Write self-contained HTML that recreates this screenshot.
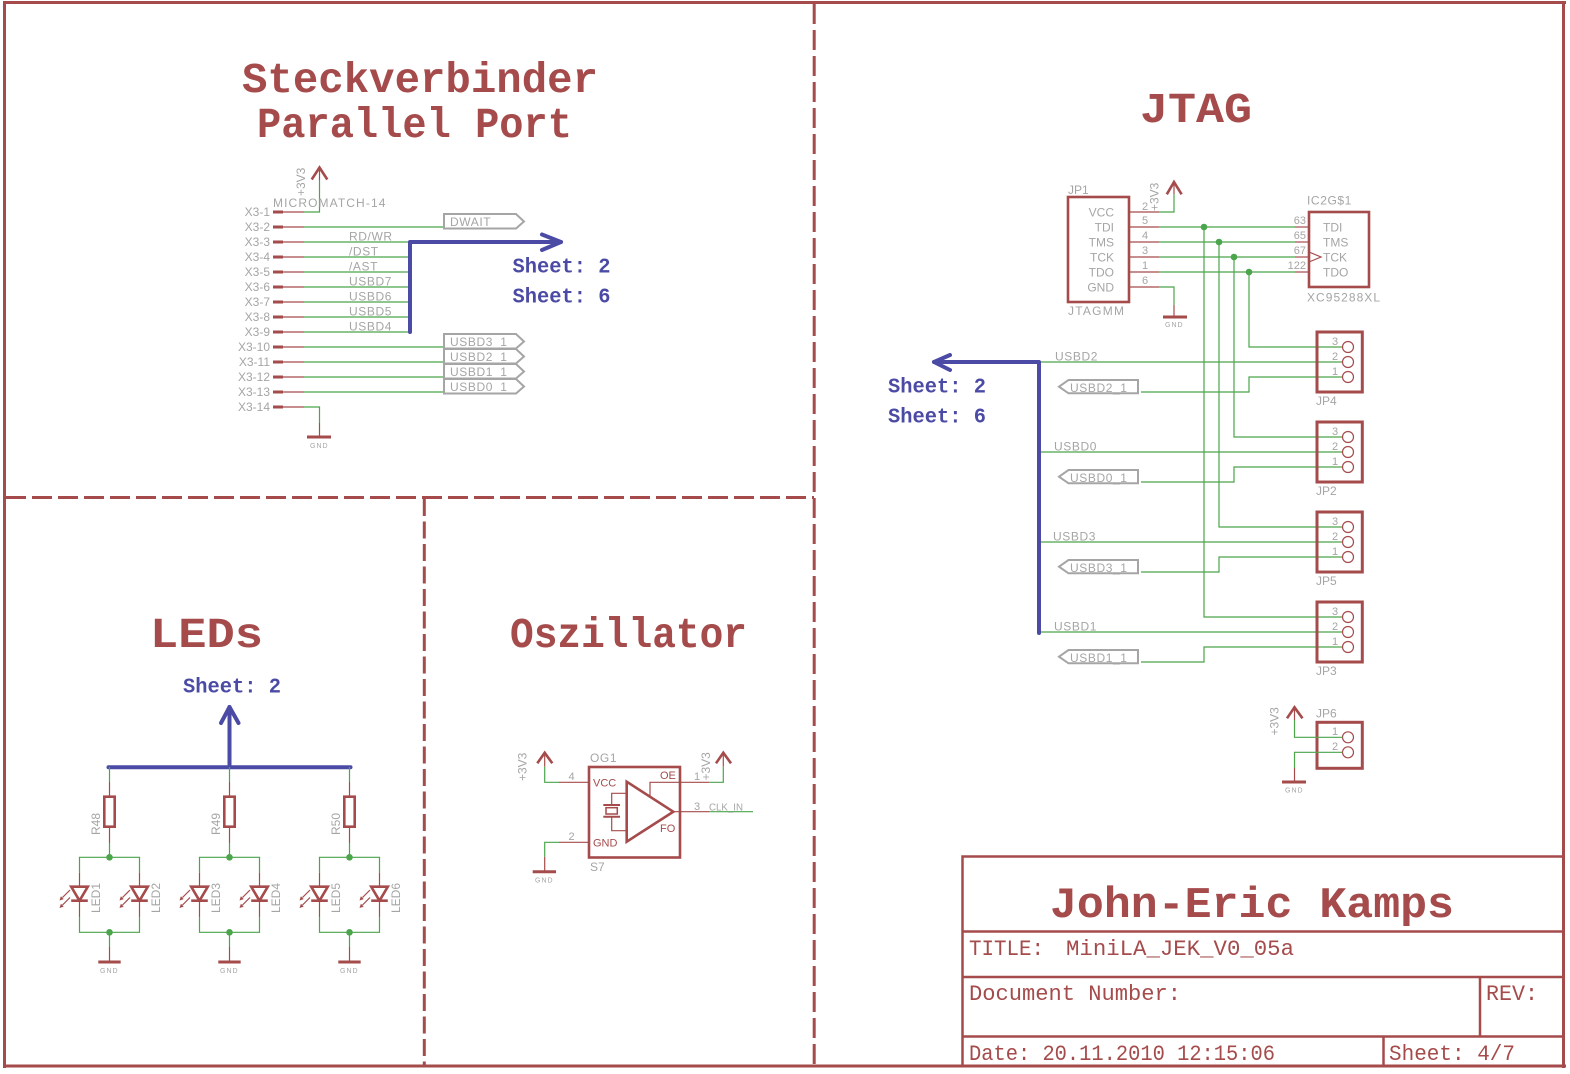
<!DOCTYPE html>
<html><head><meta charset="utf-8">
<style>
html,body{margin:0;padding:0;background:#fff;}
svg{display:block;}
.g{stroke:#4BA54B;stroke-width:1.2;fill:none}
.r{stroke:#A54B4B;stroke-width:1.2;fill:none}
.rt{stroke:#A54B4B;stroke-width:2.6;fill:none}
.b{stroke:#4B4BA5;stroke-width:4;fill:none;stroke-linecap:round;stroke-linejoin:round}
.gy{stroke:#A5A5A5;stroke-width:2;fill:#fff}
text{font-family:"Liberation Sans",sans-serif}
.t{fill:#A5A5A5;font-size:12px;letter-spacing:0.6px}
.tn{fill:#A5A5A5;font-size:12px}
.tp{fill:#A5A5A5;font-size:11px}
.gnd{fill:#A5A5A5;font-size:7px;letter-spacing:1px}
.h{fill:#A54B4B;font-family:"Liberation Mono",monospace;font-weight:bold;font-size:43px}
.s{fill:#4B4BA5;font-family:"Liberation Mono",monospace;font-weight:bold;font-size:21px}
.tb{fill:#A54B4B;font-family:"Liberation Mono",monospace;font-size:22px}
.rl{fill:#A54B4B;font-size:11px}
.dot{fill:#4BA54B}
.ra{fill:#A54B4B}
</style></head><body>
<svg width="1570" height="1074" viewBox="0 0 1570 1074" xmlns="http://www.w3.org/2000/svg">

<!-- Frame -->
<g stroke="#A54B4B" stroke-width="3" fill="none">
<line x1="4.5" y1="1" x2="4.5" y2="1068"/>
<line x1="3" y1="2.5" x2="1566" y2="2.5"/>
<line x1="1563.5" y1="1" x2="1563.5" y2="1068"/>
<line x1="3" y1="1066" x2="1566" y2="1066"/>
<line x1="6" y1="497.5" x2="814" y2="497.5" stroke-dasharray="20 6"/>
<line x1="814.2" y1="4" x2="814.2" y2="1066" stroke-dasharray="20 6"/>
<line x1="424.3" y1="499" x2="424.3" y2="1066" stroke-dasharray="17 5.5"/>
</g>

<!-- Headings -->
<text class="h" x="242" y="92" textLength="356" lengthAdjust="spacingAndGlyphs">Steckverbinder</text>
<text class="h" x="257" y="137" textLength="315" lengthAdjust="spacingAndGlyphs">Parallel Port</text>
<text class="h" x="1140" y="122" textLength="112" lengthAdjust="spacingAndGlyphs">JTAG</text>
<text class="h" x="150" y="647" textLength="113" lengthAdjust="spacingAndGlyphs">LEDs</text>
<text class="h" x="510" y="647" textLength="237" lengthAdjust="spacingAndGlyphs">Oszillator</text>

<!-- ================= Parallel port ================= -->
<polyline class="rt" stroke-width="2" points="311.7,179.5 319.5,167.5 327.3,179.5"/>
<line class="r" x1="319.5" y1="167.5" x2="319.5" y2="180"/>
<polyline class="g" points="319.5,180 319.5,212 304,212"/>
<text class="tn" transform="translate(305,196) rotate(-90)">+3V3</text>
<text class="t" x="273" y="207" textLength="113">MICROMATCH-14</text>

<g>
<text class="tn" x="270" y="216" text-anchor="end">X3-1</text>
<text class="tn" x="270" y="231" text-anchor="end">X3-2</text>
<text class="tn" x="270" y="246" text-anchor="end">X3-3</text>
<text class="tn" x="270" y="261" text-anchor="end">X3-4</text>
<text class="tn" x="270" y="276" text-anchor="end">X3-5</text>
<text class="tn" x="270" y="291" text-anchor="end">X3-6</text>
<text class="tn" x="270" y="306" text-anchor="end">X3-7</text>
<text class="tn" x="270" y="321" text-anchor="end">X3-8</text>
<text class="tn" x="270" y="336" text-anchor="end">X3-9</text>
<text class="tn" x="270" y="351" text-anchor="end">X3-10</text>
<text class="tn" x="270" y="366" text-anchor="end">X3-11</text>
<text class="tn" x="270" y="381" text-anchor="end">X3-12</text>
<text class="tn" x="270" y="396" text-anchor="end">X3-13</text>
<text class="tn" x="270" y="411" text-anchor="end">X3-14</text>
</g>
<g stroke="#A54B4B" stroke-width="3">
<line x1="273" y1="212" x2="283" y2="212"/><line x1="273" y1="227" x2="283" y2="227"/>
<line x1="273" y1="242" x2="283" y2="242"/><line x1="273" y1="257" x2="283" y2="257"/>
<line x1="273" y1="272" x2="283" y2="272"/><line x1="273" y1="287" x2="283" y2="287"/>
<line x1="273" y1="302" x2="283" y2="302"/><line x1="273" y1="317" x2="283" y2="317"/>
<line x1="273" y1="332" x2="283" y2="332"/><line x1="273" y1="347" x2="283" y2="347"/>
<line x1="273" y1="362" x2="283" y2="362"/><line x1="273" y1="377" x2="283" y2="377"/>
<line x1="273" y1="392" x2="283" y2="392"/><line x1="273" y1="407" x2="283" y2="407"/>
</g>
<g class="r">
<line x1="283" y1="212" x2="304" y2="212"/><line x1="283" y1="227" x2="304" y2="227"/>
<line x1="283" y1="242" x2="304" y2="242"/><line x1="283" y1="257" x2="304" y2="257"/>
<line x1="283" y1="272" x2="304" y2="272"/><line x1="283" y1="287" x2="304" y2="287"/>
<line x1="283" y1="302" x2="304" y2="302"/><line x1="283" y1="317" x2="304" y2="317"/>
<line x1="283" y1="332" x2="304" y2="332"/><line x1="283" y1="347" x2="304" y2="347"/>
<line x1="283" y1="362" x2="304" y2="362"/><line x1="283" y1="377" x2="304" y2="377"/>
<line x1="283" y1="392" x2="304" y2="392"/><line x1="283" y1="407" x2="304" y2="407"/>
</g>
<g class="g">
<line x1="304" y1="227" x2="444" y2="227"/>
<line x1="304" y1="242" x2="410" y2="242"/>
<line x1="304" y1="257" x2="410" y2="257"/>
<line x1="304" y1="272" x2="410" y2="272"/>
<line x1="304" y1="287" x2="410" y2="287"/>
<line x1="304" y1="302" x2="410" y2="302"/>
<line x1="304" y1="317" x2="410" y2="317"/>
<line x1="304" y1="332" x2="410" y2="332"/>
<line x1="304" y1="347" x2="444" y2="347"/>
<line x1="304" y1="362" x2="444" y2="362"/>
<line x1="304" y1="377" x2="444" y2="377"/>
<line x1="304" y1="392" x2="444" y2="392"/>
<polyline points="304,407 319.5,407 319.5,423"/>
</g>
<line class="r" x1="319.5" y1="423" x2="319.5" y2="437"/>
<line stroke="#A54B4B" stroke-width="3" x1="307" y1="437" x2="331" y2="437"/>
<text class="gnd" x="310" y="448">GND</text>

<text class="t" x="349" y="240.5">RD/WR</text>
<text class="t" x="349" y="255.5">/DST</text>
<text class="t" x="349" y="270.5">/AST</text>
<text class="t" x="349" y="285.5">USBD7</text>
<text class="t" x="349" y="300.5">USBD6</text>
<text class="t" x="349" y="315.5">USBD5</text>
<text class="t" x="349" y="330.5">USBD4</text>

<polygon class="gy" points="444,214 516,214 524,221.5 516,228.5 444,228.5"/>
<text class="t" x="450" y="226">DWAIT</text>
<polygon class="gy" points="444,334 516,334 524,341.5 516,348.5 444,348.5"/>
<text class="t" x="450" y="346">USBD3_1</text>
<polygon class="gy" points="444,349 516,349 524,356.5 516,363.5 444,363.5"/>
<text class="t" x="450" y="361">USBD2_1</text>
<polygon class="gy" points="444,364 516,364 524,371.5 516,378.5 444,378.5"/>
<text class="t" x="450" y="376">USBD1_1</text>
<polygon class="gy" points="444,379 516,379 524,386.5 516,393.5 444,393.5"/>
<text class="t" x="450" y="391">USBD0_1</text>

<polyline class="b" points="410,332 410,242 561,242"/>
<polyline class="b" points="542,234.5 561,242 542,250"/>
<text class="s" x="512.5" y="272.3" textLength="98" lengthAdjust="spacingAndGlyphs">Sheet: 2</text>
<text class="s" x="512.5" y="302.5" textLength="98" lengthAdjust="spacingAndGlyphs">Sheet: 6</text>

<!-- ================= JTAG ================= -->
<rect class="rt" x="1068" y="197" width="61" height="105"/>
<text class="tn" x="1068" y="194">JP1</text>
<text class="tn" x="1068" y="315" textLength="56">JTAGMM</text>
<text class="tn" x="1114" y="216.7" text-anchor="end">VCC</text>
<text class="tn" x="1114" y="231.7" text-anchor="end">TDI</text>
<text class="tn" x="1114" y="246.7" text-anchor="end">TMS</text>
<text class="tn" x="1114" y="261.7" text-anchor="end">TCK</text>
<text class="tn" x="1114" y="276.7" text-anchor="end">TDO</text>
<text class="tn" x="1114" y="291.7" text-anchor="end">GND</text>
<g class="r">
<line x1="1129" y1="212" x2="1159" y2="212"/>
<line x1="1129" y1="227" x2="1159" y2="227"/>
<line x1="1129" y1="242" x2="1159" y2="242"/>
<line x1="1129" y1="257" x2="1159" y2="257"/>
<line x1="1129" y1="272" x2="1159" y2="272"/>
<line x1="1129" y1="287" x2="1159" y2="287"/>
<line x1="1295" y1="227" x2="1309" y2="227"/>
<line x1="1295" y1="242" x2="1309" y2="242"/>
<line x1="1295" y1="257" x2="1309" y2="257"/>
<line x1="1295" y1="272" x2="1309" y2="272"/>
<line x1="1174" y1="182" x2="1174" y2="194"/>
<line x1="1174" y1="305" x2="1174" y2="317"/>
<polyline points="1309,252 1321,257 1309,262"/>
</g>
<text class="tp" x="1142" y="210">2</text>
<text class="tp" x="1142" y="224">5</text>
<text class="tp" x="1142" y="239">4</text>
<text class="tp" x="1142" y="254">3</text>
<text class="tp" x="1142" y="269">1</text>
<text class="tp" x="1142" y="284">6</text>
<text class="tn" transform="translate(1158.5,211) rotate(-90)">+3V3</text>
<polyline class="rt" stroke-width="2" points="1166.8,194.3 1174,182 1181.6,194.3"/>
<line stroke="#A54B4B" stroke-width="3" x1="1163" y1="317" x2="1187" y2="317"/>
<text class="gnd" x="1165" y="327">GND</text>

<g class="g">
<polyline points="1159,212 1174,212 1174,194"/>
<polyline points="1159,287 1174,287 1174,305"/>
<line x1="1159" y1="227" x2="1295" y2="227"/>
<line x1="1159" y1="242" x2="1295" y2="242"/>
<line x1="1159" y1="257" x2="1295" y2="257"/>
<line x1="1159" y1="272" x2="1295" y2="272"/>
<polyline points="1204,227 1204,617 1342.5,617"/>
<polyline points="1219,242 1219,527 1342.5,527"/>
<polyline points="1234,257 1234,437 1342.5,437"/>
<polyline points="1249,272 1249,347 1342.5,347"/>
<line x1="1039" y1="362" x2="1342.5" y2="362"/>
<line x1="1039" y1="452" x2="1342.5" y2="452"/>
<line x1="1039" y1="542" x2="1342.5" y2="542"/>
<line x1="1039" y1="632" x2="1342.5" y2="632"/>
<polyline points="1141,392 1249,392 1249,377 1342.5,377"/>
<polyline points="1141,482 1234,482 1234,467 1342.5,467"/>
<polyline points="1141,572 1219,572 1219,557 1342.5,557"/>
<polyline points="1141,662 1204,662 1204,647 1342.5,647"/>
</g>
<circle class="dot" cx="1204" cy="227" r="3.3"/>
<circle class="dot" cx="1219" cy="242" r="3.3"/>
<circle class="dot" cx="1234" cy="257" r="3.3"/>
<circle class="dot" cx="1249" cy="272" r="3.3"/>

<text class="tp" x="1306" y="224" text-anchor="end">63</text>
<text class="tp" x="1306" y="239" text-anchor="end">65</text>
<text class="tp" x="1306" y="254" text-anchor="end">67</text>
<text class="tp" x="1306" y="269" text-anchor="end">122</text>
<rect class="rt" x="1309" y="212" width="60" height="75"/>
<text class="t" x="1307" y="204.5">IC2G$1</text>
<text class="tn" x="1307" y="301.7" textLength="73">XC95288XL</text>
<text class="tn" x="1323" y="231.7">TDI</text>
<text class="tn" x="1323" y="246.7">TMS</text>
<text class="tn" x="1323" y="261.7">TCK</text>
<text class="tn" x="1323" y="276.7">TDO</text>

<!-- jumpers -->
<g>
<rect x="1317" y="332" width="45.3" height="60" stroke="#A54B4B" stroke-width="3" fill="none"/>
<rect x="1317" y="422" width="45.3" height="60" stroke="#A54B4B" stroke-width="3" fill="none"/>
<rect x="1317" y="512" width="45.3" height="60" stroke="#A54B4B" stroke-width="3" fill="none"/>
<rect x="1317" y="602" width="45.3" height="60" stroke="#A54B4B" stroke-width="3" fill="none"/>
<rect x="1317" y="722.3" width="45.3" height="46" stroke="#A54B4B" stroke-width="3" fill="none"/>
</g>
<g class="r" fill="#fff">
<circle cx="1348" cy="347" r="5.5" fill="#fff"/><circle cx="1348" cy="362" r="5.5" fill="#fff"/><circle cx="1348" cy="377" r="5.5" fill="#fff"/>
<circle cx="1348" cy="437" r="5.5" fill="#fff"/><circle cx="1348" cy="452" r="5.5" fill="#fff"/><circle cx="1348" cy="467" r="5.5" fill="#fff"/>
<circle cx="1348" cy="527" r="5.5" fill="#fff"/><circle cx="1348" cy="542" r="5.5" fill="#fff"/><circle cx="1348" cy="557" r="5.5" fill="#fff"/>
<circle cx="1348" cy="617" r="5.5" fill="#fff"/><circle cx="1348" cy="632" r="5.5" fill="#fff"/><circle cx="1348" cy="647" r="5.5" fill="#fff"/>
<circle cx="1348" cy="737.3" r="5.5" fill="#fff"/><circle cx="1348" cy="752.3" r="5.5" fill="#fff"/>
</g>
<g>
<text class="tp" x="1332" y="345">3</text><text class="tp" x="1332" y="360">2</text><text class="tp" x="1332" y="375">1</text>
<text class="tp" x="1332" y="435">3</text><text class="tp" x="1332" y="450">2</text><text class="tp" x="1332" y="465">1</text>
<text class="tp" x="1332" y="525">3</text><text class="tp" x="1332" y="540">2</text><text class="tp" x="1332" y="555">1</text>
<text class="tp" x="1332" y="615">3</text><text class="tp" x="1332" y="630">2</text><text class="tp" x="1332" y="645">1</text>
<text class="tp" x="1332" y="735">1</text><text class="tp" x="1332" y="750">2</text>
</g>
<text class="tn" x="1316" y="405">JP4</text>
<text class="tn" x="1316" y="495">JP2</text>
<text class="tn" x="1316" y="585">JP5</text>
<text class="tn" x="1316" y="675">JP3</text>
<text class="tn" x="1316" y="717.5">JP6</text>

<text class="t" x="1055" y="360.5">USBD2</text>
<text class="t" x="1054" y="450.5">USBD0</text>
<text class="t" x="1053" y="540.5">USBD3</text>
<text class="t" x="1054" y="630.5">USBD1</text>

<polygon class="gy" points="1059,386.7 1068.5,380 1138,380 1138,393.3 1068.5,393.3"/>
<text class="t" x="1070" y="392">USBD2_1</text>
<polygon class="gy" points="1059,476.7 1068.5,470 1138,470 1138,483.3 1068.5,483.3"/>
<text class="t" x="1070" y="482">USBD0_1</text>
<polygon class="gy" points="1059,566.7 1068.5,560 1138,560 1138,573.3 1068.5,573.3"/>
<text class="t" x="1070" y="572">USBD3_1</text>
<polygon class="gy" points="1059,656.7 1068.5,650 1138,650 1138,663.3 1068.5,663.3"/>
<text class="t" x="1070" y="662">USBD1_1</text>

<polyline class="b" points="1039,633 1039,362 934,362"/>
<polyline class="b" points="950,355 934,362 950,370"/>
<text class="s" x="888" y="392.5" textLength="98" lengthAdjust="spacingAndGlyphs">Sheet: 2</text>
<text class="s" x="888" y="422.5" textLength="98" lengthAdjust="spacingAndGlyphs">Sheet: 6</text>

<!-- JP6 -->
<polyline class="rt" stroke-width="2" points="1287,718.3 1294.5,707.3 1302.5,718.3"/>
<line class="r" x1="1294.5" y1="707.3" x2="1294.5" y2="720"/>
<polyline class="g" points="1294.5,720 1294.5,737.3 1342.5,737.3"/>
<polyline class="g" points="1342.5,752.3 1294.5,752.3 1294.5,768"/>
<line class="r" x1="1294.5" y1="768" x2="1294.5" y2="782"/>
<line stroke="#A54B4B" stroke-width="3" x1="1282" y1="782" x2="1306" y2="782"/>
<text class="gnd" x="1285" y="792.5">GND</text>
<text class="tn" transform="translate(1278.5,735.5) rotate(-90)">+3V3</text>

<!-- ================= LEDs ================= -->
<polyline class="b" points="108.5,767.3 350.5,767.3"/>
<polyline class="b" points="229.5,767.3 229.5,707"/>
<polyline class="b" points="221,723 229.5,707 238.5,723"/>
<text class="s" x="183" y="692.3" textLength="98" lengthAdjust="spacingAndGlyphs">Sheet: 2</text>

<g id="ledgrp">
<line class="g" x1="109.5" y1="767" x2="109.5" y2="782"/>
<line class="r" x1="109.5" y1="782" x2="109.5" y2="797"/>
<rect class="rt" x="104.3" y="796.7" width="10.4" height="30" stroke-width="2.4"/>
<line class="r" x1="109.5" y1="827" x2="109.5" y2="843"/>
<line class="g" x1="109.5" y1="843" x2="109.5" y2="857.3"/>
<polyline class="g" points="79.5,872.7 79.5,857.3 139.5,857.3 139.5,872.7"/>
<circle class="dot" cx="109.5" cy="857.3" r="3.3"/>
<line class="r" x1="79.5" y1="872.7" x2="79.5" y2="886.7"/>
<polygon class="rt" stroke-width="2" points="71.2,886.7 87.8,886.7 79.5,900.7"/>
<line class="rt" stroke-width="2" x1="71.2" y1="900.7" x2="87.8" y2="900.7"/>
<line class="r" x1="79.5" y1="900.7" x2="79.5" y2="917.3"/>
<line class="r" x1="70" y1="890" x2="62.5" y2="897.5"/>
<polygon class="ra" points="59.5,900.5 63.7,899.1 60.9,896.3"/>
<line class="r" x1="70" y1="897.5" x2="62.5" y2="905"/>
<polygon class="ra" points="59.5,908 63.7,906.6 60.9,903.8"/>
<line class="r" x1="139.5" y1="872.7" x2="139.5" y2="886.7"/>
<polygon class="rt" stroke-width="2" points="131.2,886.7 147.8,886.7 139.5,900.7"/>
<line class="rt" stroke-width="2" x1="131.2" y1="900.7" x2="147.8" y2="900.7"/>
<line class="r" x1="139.5" y1="900.7" x2="139.5" y2="917.3"/>
<line class="r" x1="130" y1="890" x2="122.5" y2="897.5"/>
<polygon class="ra" points="119.5,900.5 123.7,899.1 120.9,896.3"/>
<line class="r" x1="130" y1="897.5" x2="122.5" y2="905"/>
<polygon class="ra" points="119.5,908 123.7,906.6 120.9,903.8"/>
<polyline class="g" points="79.5,917.3 79.5,932.3 139.5,932.3 139.5,917.3"/>
<circle class="dot" cx="109.5" cy="932.3" r="3.3"/>
<line class="g" x1="109.5" y1="932.3" x2="109.5" y2="947"/>
<line class="r" x1="109.5" y1="947" x2="109.5" y2="962"/>
<line stroke="#A54B4B" stroke-width="3" x1="98.3" y1="962" x2="120.7" y2="962"/>
<text class="gnd" x="100" y="973">GND</text>
</g>
<g transform="translate(120,0)">
<line class="g" x1="109.5" y1="767" x2="109.5" y2="782"/>
<line class="r" x1="109.5" y1="782" x2="109.5" y2="797"/>
<rect class="rt" x="104.3" y="796.7" width="10.4" height="30" stroke-width="2.4"/>
<line class="r" x1="109.5" y1="827" x2="109.5" y2="843"/>
<line class="g" x1="109.5" y1="843" x2="109.5" y2="857.3"/>
<polyline class="g" points="79.5,872.7 79.5,857.3 139.5,857.3 139.5,872.7"/>
<circle class="dot" cx="109.5" cy="857.3" r="3.3"/>
<line class="r" x1="79.5" y1="872.7" x2="79.5" y2="886.7"/>
<polygon class="rt" stroke-width="2" points="71.2,886.7 87.8,886.7 79.5,900.7"/>
<line class="rt" stroke-width="2" x1="71.2" y1="900.7" x2="87.8" y2="900.7"/>
<line class="r" x1="79.5" y1="900.7" x2="79.5" y2="917.3"/>
<line class="r" x1="70" y1="890" x2="62.5" y2="897.5"/>
<polygon class="ra" points="59.5,900.5 63.7,899.1 60.9,896.3"/>
<line class="r" x1="70" y1="897.5" x2="62.5" y2="905"/>
<polygon class="ra" points="59.5,908 63.7,906.6 60.9,903.8"/>
<line class="r" x1="139.5" y1="872.7" x2="139.5" y2="886.7"/>
<polygon class="rt" stroke-width="2" points="131.2,886.7 147.8,886.7 139.5,900.7"/>
<line class="rt" stroke-width="2" x1="131.2" y1="900.7" x2="147.8" y2="900.7"/>
<line class="r" x1="139.5" y1="900.7" x2="139.5" y2="917.3"/>
<line class="r" x1="130" y1="890" x2="122.5" y2="897.5"/>
<polygon class="ra" points="119.5,900.5 123.7,899.1 120.9,896.3"/>
<line class="r" x1="130" y1="897.5" x2="122.5" y2="905"/>
<polygon class="ra" points="119.5,908 123.7,906.6 120.9,903.8"/>
<polyline class="g" points="79.5,917.3 79.5,932.3 139.5,932.3 139.5,917.3"/>
<circle class="dot" cx="109.5" cy="932.3" r="3.3"/>
<line class="g" x1="109.5" y1="932.3" x2="109.5" y2="947"/>
<line class="r" x1="109.5" y1="947" x2="109.5" y2="962"/>
<line stroke="#A54B4B" stroke-width="3" x1="98.3" y1="962" x2="120.7" y2="962"/>
<text class="gnd" x="100" y="973">GND</text>
</g>
<g transform="translate(240,0)">
<line class="g" x1="109.5" y1="767" x2="109.5" y2="782"/>
<line class="r" x1="109.5" y1="782" x2="109.5" y2="797"/>
<rect class="rt" x="104.3" y="796.7" width="10.4" height="30" stroke-width="2.4"/>
<line class="r" x1="109.5" y1="827" x2="109.5" y2="843"/>
<line class="g" x1="109.5" y1="843" x2="109.5" y2="857.3"/>
<polyline class="g" points="79.5,872.7 79.5,857.3 139.5,857.3 139.5,872.7"/>
<circle class="dot" cx="109.5" cy="857.3" r="3.3"/>
<line class="r" x1="79.5" y1="872.7" x2="79.5" y2="886.7"/>
<polygon class="rt" stroke-width="2" points="71.2,886.7 87.8,886.7 79.5,900.7"/>
<line class="rt" stroke-width="2" x1="71.2" y1="900.7" x2="87.8" y2="900.7"/>
<line class="r" x1="79.5" y1="900.7" x2="79.5" y2="917.3"/>
<line class="r" x1="70" y1="890" x2="62.5" y2="897.5"/>
<polygon class="ra" points="59.5,900.5 63.7,899.1 60.9,896.3"/>
<line class="r" x1="70" y1="897.5" x2="62.5" y2="905"/>
<polygon class="ra" points="59.5,908 63.7,906.6 60.9,903.8"/>
<line class="r" x1="139.5" y1="872.7" x2="139.5" y2="886.7"/>
<polygon class="rt" stroke-width="2" points="131.2,886.7 147.8,886.7 139.5,900.7"/>
<line class="rt" stroke-width="2" x1="131.2" y1="900.7" x2="147.8" y2="900.7"/>
<line class="r" x1="139.5" y1="900.7" x2="139.5" y2="917.3"/>
<line class="r" x1="130" y1="890" x2="122.5" y2="897.5"/>
<polygon class="ra" points="119.5,900.5 123.7,899.1 120.9,896.3"/>
<line class="r" x1="130" y1="897.5" x2="122.5" y2="905"/>
<polygon class="ra" points="119.5,908 123.7,906.6 120.9,903.8"/>
<polyline class="g" points="79.5,917.3 79.5,932.3 139.5,932.3 139.5,917.3"/>
<circle class="dot" cx="109.5" cy="932.3" r="3.3"/>
<line class="g" x1="109.5" y1="932.3" x2="109.5" y2="947"/>
<line class="r" x1="109.5" y1="947" x2="109.5" y2="962"/>
<line stroke="#A54B4B" stroke-width="3" x1="98.3" y1="962" x2="120.7" y2="962"/>
<text class="gnd" x="100" y="973">GND</text>
</g>
<text class="tn" transform="translate(100,835) rotate(-90)">R48</text>
<text class="tn" transform="translate(220,835) rotate(-90)">R49</text>
<text class="tn" transform="translate(340,835) rotate(-90)">R50</text>
<text class="tn" transform="translate(100,913) rotate(-90)">LED1</text>
<text class="tn" transform="translate(160,913) rotate(-90)">LED2</text>
<text class="tn" transform="translate(220,913) rotate(-90)">LED3</text>
<text class="tn" transform="translate(280,913) rotate(-90)">LED4</text>
<text class="tn" transform="translate(340,913) rotate(-90)">LED5</text>
<text class="tn" transform="translate(400,913) rotate(-90)">LED6</text>

<!-- ================= Oszillator ================= -->
<rect class="rt" x="589" y="767" width="91" height="90.5" stroke-width="2.7"/>
<text class="t" x="590" y="762">OG1</text>
<text class="tn" x="590" y="871">S7</text>
<text class="rl" x="593" y="786.5">VCC</text>
<text class="rl" x="593" y="846.5">GND</text>
<text class="rl" x="660" y="779">OE</text>
<text class="rl" x="660" y="832">FO</text>
<polygon class="rt" stroke-width="2.5" points="626.7,781.7 673.3,811.7 626.7,841.7"/>
<g class="r">
<line x1="559" y1="782.3" x2="589" y2="782.3"/>
<line x1="559" y1="842.3" x2="589" y2="842.3"/>
<line x1="680" y1="782.3" x2="709.3" y2="782.3"/>
<polyline points="650,796.7 650,782.3 680,782.3"/>
<line x1="673.3" y1="811.7" x2="709.3" y2="811.7"/>
<polyline points="626.7,793.3 611.7,793.3 611.7,805"/>
<polyline points="611.7,816.7 611.7,830.7 626.7,830.7"/>
<rect x="606" y="807.7" width="11.3" height="6.3" stroke-width="1.5"/>
<line x1="544.7" y1="752.7" x2="544.7" y2="766.7"/>
<line x1="723.3" y1="752.7" x2="723.3" y2="766.7"/>
<line x1="544.7" y1="856.7" x2="544.7" y2="871.7"/>
</g>
<line stroke="#A54B4B" stroke-width="2" x1="603.3" y1="805" x2="620" y2="805"/>
<line stroke="#A54B4B" stroke-width="2" x1="603.3" y1="816.7" x2="620" y2="816.7"/>
<polyline class="rt" stroke-width="2" points="537.3,763.3 544.7,752.7 552.3,763.3"/>
<polyline class="rt" stroke-width="2" points="716,763.3 723.3,752.7 731,763.3"/>
<g class="g">
<polyline points="559,782.3 544.7,782.3 544.7,766.7"/>
<polyline points="559,842.3 544.7,842.3 544.7,856.7"/>
<polyline points="709.3,782.3 723.3,782.3 723.3,766.7"/>
<line x1="709.3" y1="811.7" x2="753" y2="811.7"/>
</g>
<line stroke="#A54B4B" stroke-width="3" x1="532.7" y1="871.7" x2="556" y2="871.7"/>
<text class="gnd" x="535" y="882.5">GND</text>
<text class="tn" transform="translate(526.7,781) rotate(-90)">+3V3</text>
<text class="tn" transform="translate(710,780.5) rotate(-90)">+3V3</text>
<text class="tp" x="568.5" y="780">4</text>
<text class="tp" x="568.5" y="840">2</text>
<text class="tp" x="694" y="780">1</text>
<text class="tp" x="694" y="810">3</text>
<text class="tn" x="709" y="810.5" textLength="34" lengthAdjust="spacingAndGlyphs" style="font-size:10px">CLK_IN</text>

<!-- ================= Title block ================= -->
<g stroke="#A54B4B" stroke-width="2.5" fill="none">
<rect x="962.5" y="856.5" width="601" height="209.5"/>
<line x1="962.5" y1="931.5" x2="1563.5" y2="931.5"/>
<line x1="962.5" y1="977" x2="1563.5" y2="977"/>
<line x1="962.5" y1="1036.5" x2="1563.5" y2="1036.5"/>
<line x1="1480" y1="977" x2="1480" y2="1036.5"/>
<line x1="1383.5" y1="1036.5" x2="1383.5" y2="1066"/>
</g>
<text class="h" x="1050" y="917" style="font-size:44px" textLength="404" lengthAdjust="spacingAndGlyphs">John-Eric Kamps</text>
<text class="tb" x="969" y="955" textLength="75" lengthAdjust="spacingAndGlyphs">TITLE:</text>
<text class="tb" x="1066" y="955" textLength="228" lengthAdjust="spacingAndGlyphs">MiniLA_JEK_V0_05a</text>
<text class="tb" x="969" y="1000" textLength="212" lengthAdjust="spacingAndGlyphs">Document Number:</text>
<text class="tb" x="1486" y="1000" textLength="52" lengthAdjust="spacingAndGlyphs">REV:</text>
<text class="tb" x="969" y="1060" textLength="306" lengthAdjust="spacingAndGlyphs">Date: 20.11.2010 12:15:06</text>
<text class="tb" x="1389" y="1060" textLength="126" lengthAdjust="spacingAndGlyphs">Sheet: 4/7</text>

</svg>
</body></html>
